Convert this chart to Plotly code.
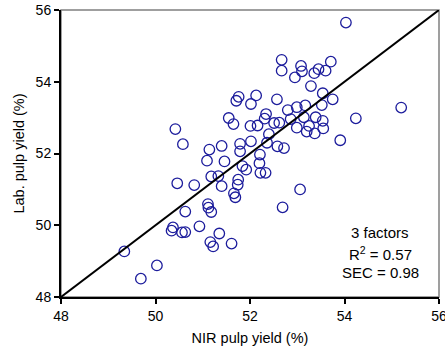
import plotly.graph_objects as go

nir_yield = [54.03, 52.67, 52.67, 53.08, 53.10, 52.95, 53.36, 53.45, 53.60, 53.71,
             53.29, 53.54, 53.75, 53.52, 52.57, 51.76, 51.71, 52.13, 52.02, 55.20,
             54.24, 53.91, 52.80, 52.99, 53.17, 52.34, 52.31, 52.51, 52.62, 52.86,
             53.14, 53.39, 53.54, 52.99, 53.25, 53.20, 53.37, 53.55, 51.55, 51.65,
             52.01, 52.16, 52.40, 52.36, 52.02, 51.79, 51.79, 52.58, 52.72, 52.21,
             52.20, 52.22, 52.33, 51.84, 51.92, 51.75, 51.74, 51.66, 51.69, 53.06,
             52.69, 51.61, 50.42, 50.58, 51.14, 51.40, 51.09, 51.46, 50.46, 50.82,
             51.18, 51.33, 51.40, 50.63, 51.11, 51.12, 51.18, 50.37, 50.34, 50.56,
             50.63, 50.93, 51.35, 51.16, 51.22, 49.34, 50.03, 49.69]
lab_yield = [55.65, 54.61, 54.31, 54.44, 54.29, 54.12, 54.24, 54.35, 54.31, 54.56,
             53.88, 53.68, 53.51, 53.35, 53.51, 53.58, 53.47, 53.62, 53.38, 53.28,
             52.98, 52.37, 53.21, 53.29, 53.34, 53.10, 52.97, 52.85, 52.86, 52.96,
             53.01, 53.01, 52.91, 52.72, 52.77, 52.61, 52.56, 52.70, 52.99, 52.82,
             52.77, 52.78, 52.54, 52.30, 52.34, 52.27, 52.06, 52.20, 52.15, 51.97,
             51.73, 51.46, 51.46, 51.65, 51.55, 51.27, 51.13, 50.89, 50.78, 51.00,
             50.50, 49.49, 52.68, 52.26, 52.11, 52.21, 51.80, 51.78, 51.17, 51.12,
             51.36, 51.37, 51.09, 50.38, 50.59, 50.49, 50.37, 49.94, 49.85, 49.80,
             49.81, 49.97, 49.77, 49.53, 49.41, 49.27, 48.88, 48.51]

line_x = [48, 56]
line_y = [48, 56]
ticks = [48, 50, 52, 54, 56]
stats_text = ["3 factors", "R<sup>2</sup> = 0.57", "SEC = 0.98"]
stats_y = [0.224, 0.150, 0.086]

FONT = "Liberation Sans, Arial, sans-serif"

fig = go.Figure()
fig.add_trace(go.Scatter(x=nir_yield, y=lab_yield, mode="markers",
                         marker=dict(symbol="circle-open", size=10.5, color="#1c1c9c",
                                     line=dict(width=1.3, color="#1c1c9c")),
                         showlegend=False, cliponaxis=False, hoverinfo="skip"))
fig.add_trace(go.Scatter(x=line_x, y=line_y, mode="lines",
                         line=dict(color="black", width=2), showlegend=False,
                         hoverinfo="skip"))

fig.update_layout(
    width=445, height=351,
    margin=dict(l=61, r=6, t=10, b=54),
    paper_bgcolor="white", plot_bgcolor="white",
    font=dict(family=FONT, size=14, color="black"),
    shapes=[dict(type="rect", xref="paper", yref="paper", x0=0, y0=0, x1=1, y1=1,
                 line=dict(color="#808080", width=1.5), layer="below")],
)
fig.update_xaxes(range=[48, 56], tickvals=ticks, ticks="outside", ticklen=5,
                 tickwidth=1.5, tickcolor="black", showline=True, linecolor="black",
                 linewidth=2, showgrid=False, zeroline=False, automargin=False,
                 tickfont=dict(size=14), ticklabeloverflow="allow",
                 title=dict(text="NIR pulp yield (%)", standoff=10, font=dict(size=14.5)))
fig.update_yaxes(range=[48, 56], tickvals=ticks, ticks="outside", ticklen=5,
                 tickwidth=1.5, tickcolor="black", showline=True, linecolor="black",
                 linewidth=2, showgrid=False, zeroline=False, automargin=False,
                 tickfont=dict(size=14), ticklabeloverflow="allow",
                 title=dict(text="Lab. pulp yield (%)", standoff=8, font=dict(size=14.5)))

for t, yy in zip(stats_text, stats_y):
    fig.add_annotation(x=0.845, y=yy, xref="paper", yref="paper",
                       text=t, showarrow=False, xanchor="center", yanchor="middle",
                       font=dict(size=15))

fig.write_html("out.html", config={"displayModeBar": False},
               post_script="document.body.style.margin='0px';")
